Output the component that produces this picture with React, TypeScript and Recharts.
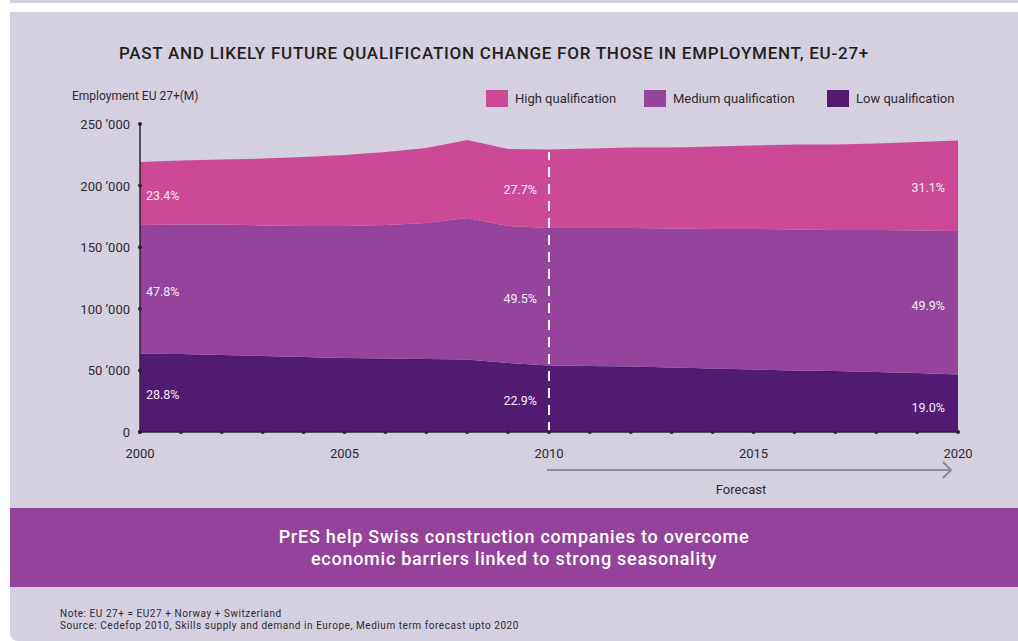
import React from "react";
import { AreaChart, Area, XAxis, YAxis, ReferenceLine, ReferenceDot } from "recharts";

const years = [2000, 2001, 2002, 2003, 2004, 2005, 2006, 2007, 2008, 2009, 2010, 2011, 2012, 2013, 2014, 2015, 2016, 2017, 2018, 2019, 2020];
const lowQual = [63.5, 63.3, 62.5, 61.7, 60.9, 60.1, 59.7, 59.3, 58.8, 56.0, 54.0, 53.6, 53.2, 52.4, 51.5, 50.7, 49.9, 49.5, 48.7, 47.9, 46.7];
const mediumQual = [104.5, 105.1, 105.9, 105.9, 106.3, 107.1, 108.3, 110.3, 114.9, 111.2, 111.6, 112.0, 112.4, 112.8, 113.3, 114.1, 114.5, 114.5, 115.3, 115.7, 116.4];
const highQual = [51.2, 52.0, 52.8, 54.4, 56.0, 57.6, 59.3, 60.9, 63.3, 62.5, 63.7, 64.5, 65.3, 65.7, 66.9, 67.7, 69.0, 69.4, 70.2, 71.8, 73.5];

const yTicks = [0, 50, 100, 150, 200, 250];
const yTickLabels = ["0", "50 \u2019000", "100 \u2019000", "150 \u2019000", "200 \u2019000", "250 \u2019000"];
const labeledYears = [2000, 2005, 2010, 2015, 2020];
const forecastStart = 2010;

// Percentage annotations: [year anchor, value position, text]
const pctYears = [2000, 2000, 2000, 2010, 2010, 2010, 2020, 2020, 2020];
const pctValues = [192.4, 114.4, 30.8, 197.2, 108.8, 26.0, 198.9, 103.1, 20.3];
const pctTexts = ["23.4%", "47.8%", "28.8%", "27.7%", "49.5%", "22.9%", "31.1%", "49.9%", "19.0%"];

const seriesNames = ["High qualification", "Medium qualification", "Low qualification"];
const COLORS = { high: "#cb4997", medium: "#94449a", low: "#521a71" };
const legendColors = [COLORS.high, COLORS.medium, COLORS.low];

const data = years.map((y, i) => ({
  year: y,
  low: lowQual[i],
  medium: mediumQual[i],
  high: highQual[i],
}));

const FONT = "Roboto, 'DejaVu Sans', sans-serif";
const TEXT = "#2e2a2f";
const BG = "#d4d0df";

const XTick = (props: any) => {
  const { x, y, payload } = props;
  const show = labeledYears.includes(payload.value);
  return (
    <g>
      <circle cx={x} cy={y} r={2} fill="#2b272b" />
      {show && (
        <text x={x} y={y + 26} textAnchor="middle" fontSize={13} fill={TEXT} fontFamily={FONT}>
          {payload.value}
        </text>
      )}
    </g>
  );
};

const YTick = (props: any) => {
  const { x, y, payload } = props;
  const idx = yTicks.indexOf(payload.value);
  return (
    <g>
      <circle cx={x} cy={y} r={2} fill="#2b272b" />
      <text x={x - 10} y={y} dy={5} textAnchor="end" fontSize={13} fill={TEXT} fontFamily={FONT}>
        {yTickLabels[idx]}
      </text>
    </g>
  );
};

export default function App() {
  const total2010 = lowQual[10] + mediumQual[10] + highQual[10];
  return (
    <div style={{ position: "absolute", left: 0, top: 0, width: 1018, height: 641, background: "#fff", overflow: "hidden", fontFamily: FONT }}>
      {/* top strip */}
      <div style={{ position: "absolute", left: 10, top: 0, width: 1008, height: 3, background: BG }} />
      {/* panel */}
      <div style={{ position: "absolute", left: 10, top: 12, width: 1008, height: 629, background: BG, borderBottomLeftRadius: 8 }} />
      {/* title */}
      <div style={{ position: "absolute", left: -6, top: 43, width: 1000, textAlign: "center", fontSize: 17, fontWeight: 500, color: "#231f20", letterSpacing: 0.75, whiteSpace: "nowrap" }}>
        PAST AND LIKELY FUTURE QUALIFICATION CHANGE FOR THOSE IN EMPLOYMENT, EU-27+
      </div>
      {/* y axis title */}
      <div style={{ position: "absolute", left: 72, top: 89, fontSize: 12, color: TEXT }}>Employment EU 27+(M)</div>
      {/* legend */}
      {seriesNames.map((n, i) => {
        const lefts = [486, 644, 827];
        return (
          <div key={n} style={{ position: "absolute", left: lefts[i], top: 90, display: "flex", alignItems: "center", fontSize: 13, color: TEXT }}>
            <div style={{ width: 22, height: 17, background: legendColors[i], marginRight: 7 }} />
            <span>{n}</span>
          </div>
        );
      })}
      {/* chart */}
      <div style={{ position: "absolute", left: 0, top: 0 }}>
        <AreaChart width={1018} height={641} data={data} margin={{ top: 124, right: 60, bottom: 179, left: 80 }}>
          <XAxis
            dataKey="year"
            type="number"
            domain={[2000, 2020]}
            ticks={years}
            interval={0}
            tick={<XTick />}
            tickLine={false}
            tickSize={0}
            tickMargin={0}
            height={30}
            axisLine={{ stroke: "#2b272b", strokeWidth: 1.5 }}
          />
          <YAxis
            type="number"
            domain={[0, 250]}
            ticks={yTicks}
            interval={0}
            tick={<YTick />}
            tickLine={false}
            tickSize={0}
            tickMargin={0}
            width={60}
            axisLine={{ stroke: "#2b272b", strokeWidth: 1.5 }}
          />
          <Area type="linear" dataKey="low" stackId="a" stroke="none" fill={COLORS.low} fillOpacity={1} isAnimationActive={false} />
          <Area type="linear" dataKey="medium" stackId="a" stroke="none" fill={COLORS.medium} fillOpacity={1} isAnimationActive={false} />
          <Area type="linear" dataKey="high" stackId="a" stroke="none" fill={COLORS.high} fillOpacity={1} isAnimationActive={false} />
          <ReferenceLine
            segment={[{ x: forecastStart, y: 0 }, { x: forecastStart, y: total2010 - 2 }]}
            stroke="#ffffff"
            strokeWidth={2}
            strokeDasharray="10 7"
          />
          {pctTexts.map((t, i) => {
            const yr = pctYears[i];
            const anchor = yr === 2000 ? "start" : "end";
            const dx = yr === 2000 ? 6 : yr === 2010 ? -12 : -13;
            return (
              <ReferenceDot
                key={t + i}
                x={yr}
                y={pctValues[i]}
                r={0}
                ifOverflow="visible"
                shape={(p: any) => (
                  <text x={p.cx + dx} y={p.cy} dy={5} textAnchor={anchor} fontSize={12.5} fill="#f6ecf6" fontFamily={FONT}>
                    {t}
                  </text>
                )}
              />
            );
          })}
        </AreaChart>
      </div>
      {/* forecast arrow */}
      <svg style={{ position: "absolute", left: 0, top: 0 }} width={1018} height={641}>
        <line x1={547} y1={470} x2={951} y2={470} stroke="#8d8a90" strokeWidth={2} />
        <polyline points="943,462 951,470 943,478" fill="none" stroke="#8d8a90" strokeWidth={2} />
        <text x={741} y={494} textAnchor="middle" fontSize={13} fill={TEXT} fontFamily={FONT}>Forecast</text>
      </svg>
      {/* banner */}
      <div style={{ position: "absolute", left: 10, top: 508, width: 1008, height: 79, background: "#95439a", color: "#fff", textAlign: "center", fontSize: 18, fontWeight: 500, lineHeight: "22px", paddingTop: 18, boxSizing: "border-box", letterSpacing: 0.75, whiteSpace: "nowrap" }}>
        <div>PrES help Swiss construction companies to overcome</div>
        <div>economic barriers linked to strong seasonality</div>
      </div>
      {/* notes */}
      <div style={{ position: "absolute", left: 60, top: 608, fontSize: 10, lineHeight: "12px", color: TEXT, letterSpacing: 0.55, whiteSpace: "nowrap" }}>
        <div>Note: EU 27+ = EU27 + Norway + Switzerland</div>
        <div>Source: Cedefop 2010, Skills supply and demand in Europe, Medium term forecast upto 2020</div>
      </div>
    </div>
  );
}
